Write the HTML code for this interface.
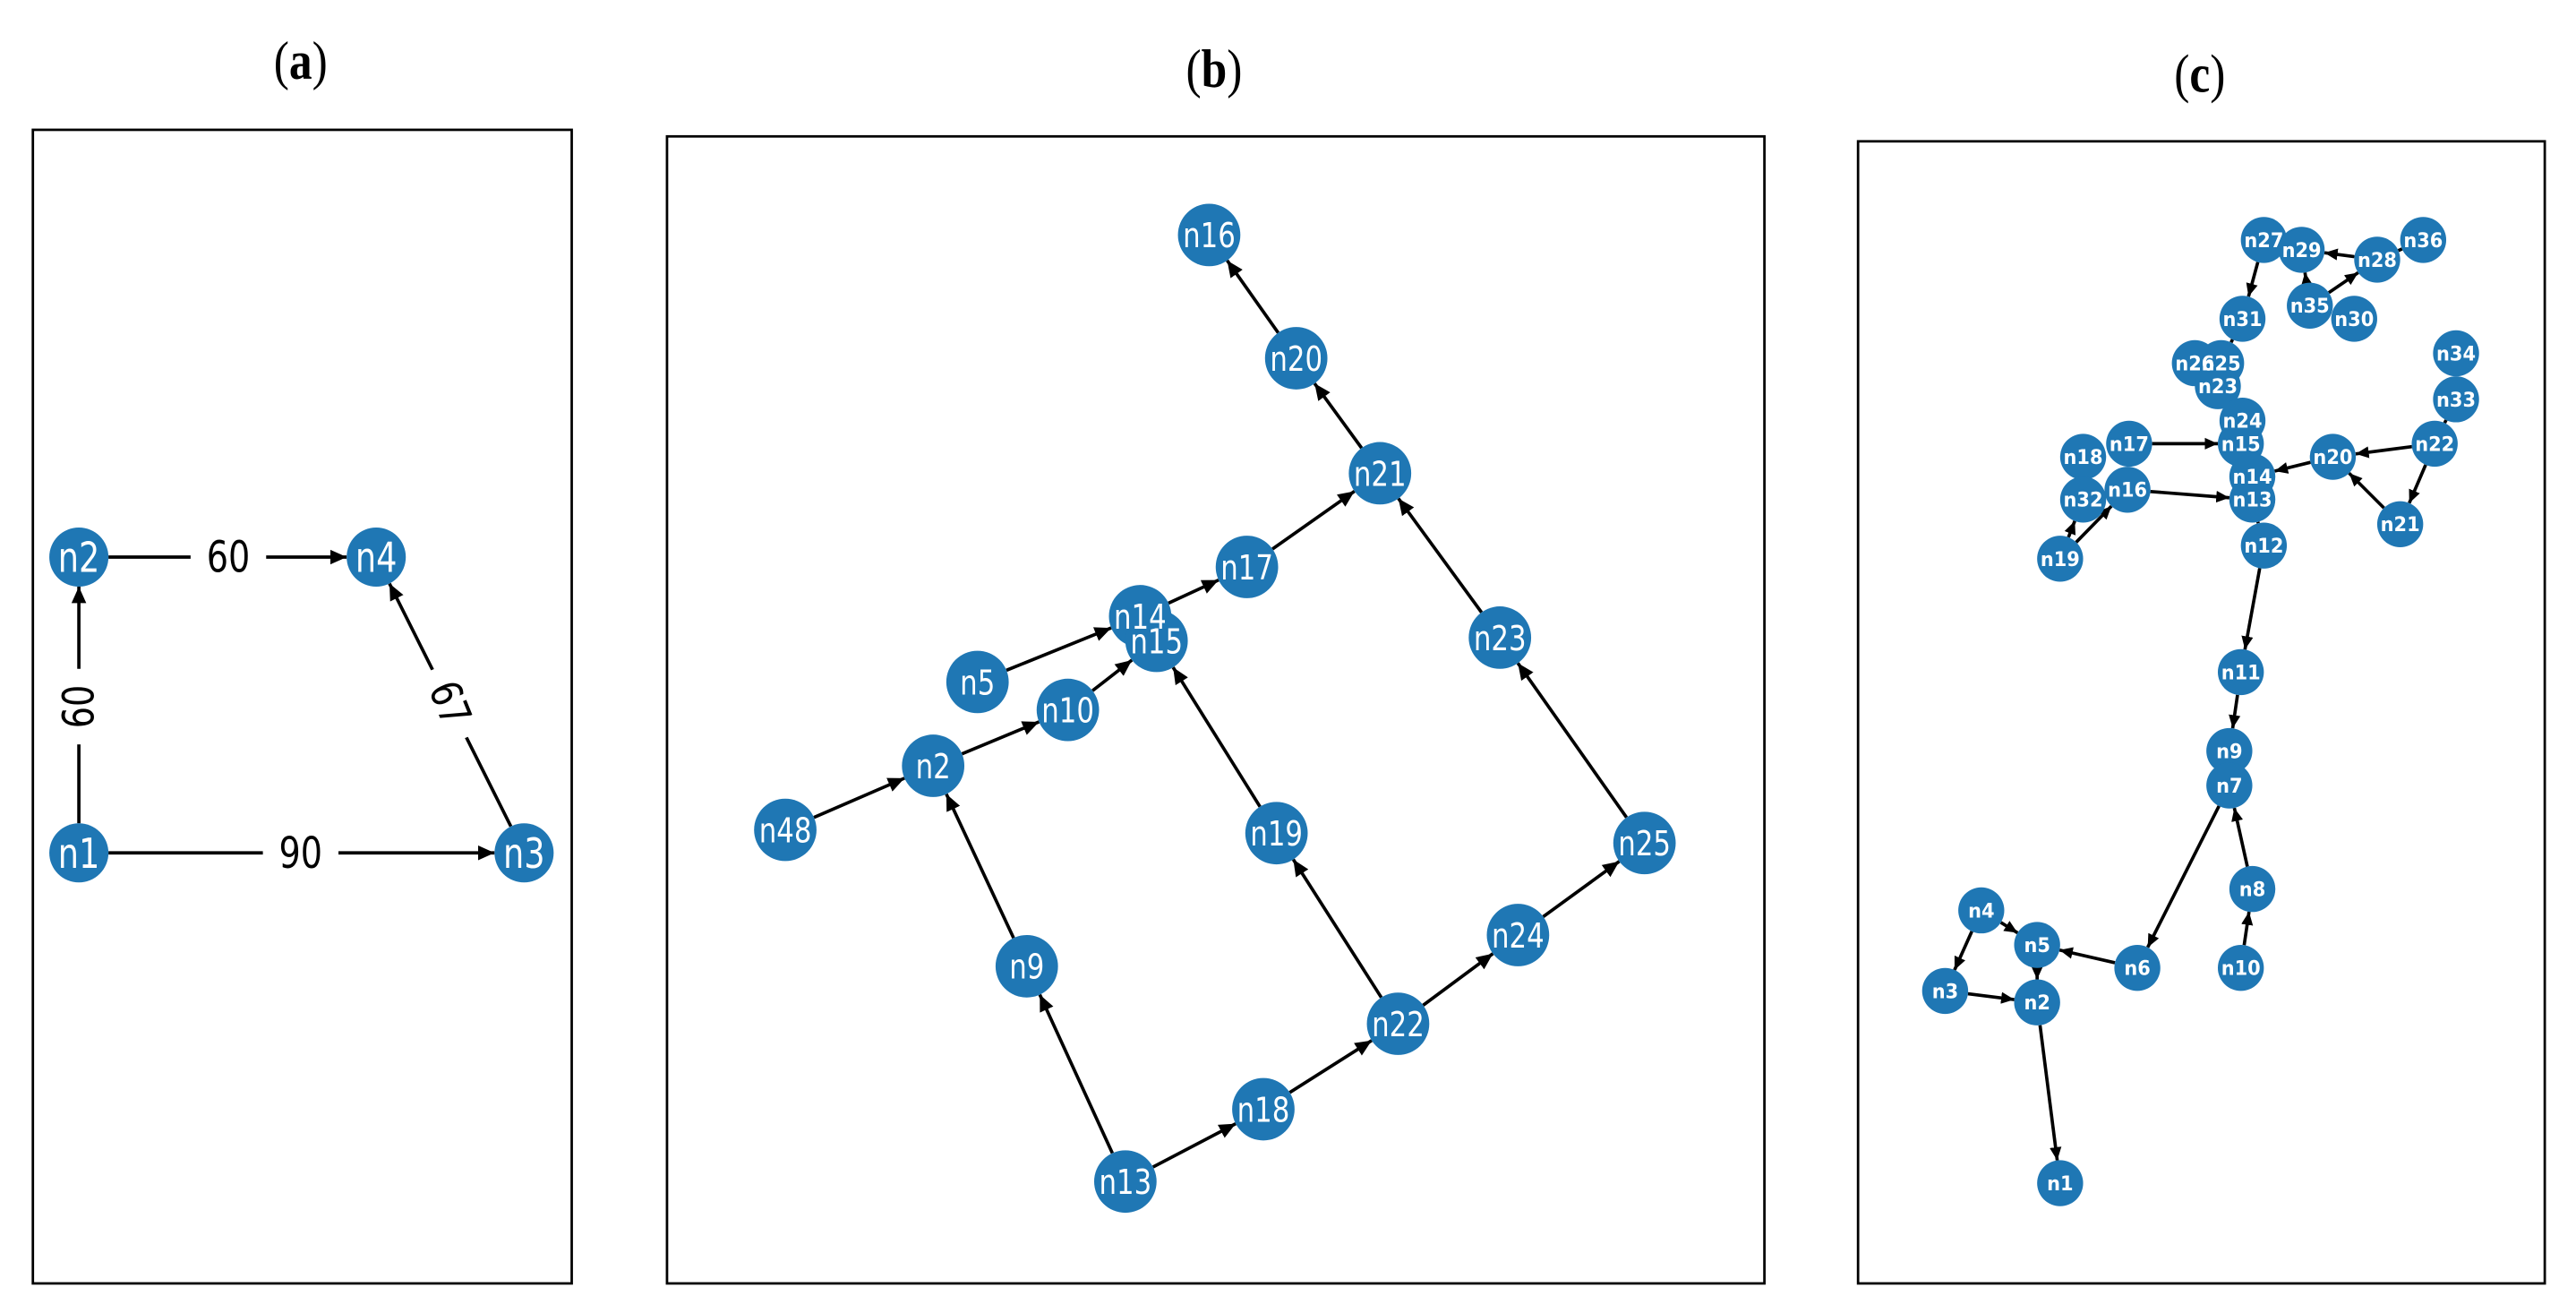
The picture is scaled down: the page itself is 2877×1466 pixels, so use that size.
<!DOCTYPE html>
<html><head><meta charset="utf-8"><style>
html,body{margin:0;padding:0;background:#fff;}
svg{display:block;}
</style></head><body>
<svg id="s" width="2877" height="1466" viewBox="0 0 1568 799" xmlns="http://www.w3.org/2000/svg">
<defs>
<marker id="ah" viewBox="0 0 10 10" refX="10" refY="5" markerWidth="10" markerHeight="10" markerUnits="userSpaceOnUse" orient="auto"><path d="M0,0.5 L10,5 L0,9.5 z" fill="#000"/></marker>
<marker id="ahs" viewBox="0 0 10 10" refX="10" refY="5" markerWidth="8" markerHeight="8" markerUnits="userSpaceOnUse" orient="auto"><path d="M0,0.5 L10,5 L0,9.5 z" fill="#000"/></marker>
</defs>
<g font-family="Liberation Serif, serif" font-size="33" text-anchor="middle">
<text x="183" y="48" transform="translate(183,48) scale(0.85,1) translate(-183,-48)">(<tspan font-weight="bold">a</tspan>)</text>
<text x="739" y="53" transform="translate(739,53) scale(0.85,1) translate(-739,-53)">(<tspan font-weight="bold">b</tspan>)</text>
<text x="1339" y="56" transform="translate(1339,56) scale(0.85,1) translate(-1339,-56)">(<tspan font-weight="bold">c</tspan>)</text>
</g>
<rect x="20" y="79" width="328" height="702" fill="none" stroke="#000" stroke-width="1.5"/>
<rect x="406" y="83" width="668" height="698" fill="none" stroke="#000" stroke-width="1.5"/>
<rect x="1131" y="86" width="418" height="695" fill="none" stroke="#000" stroke-width="1.5"/>
<g id="edges"></g>
<g id="labels"></g>
<g id="nodes"></g>
<g id="ntext"></g>
</svg>
<script>
var NS="http://www.w3.org/2000/svg";
function el(t,a,p,txt){var e=document.createElementNS(NS,t);for(var k in a)e.setAttribute(k,a[k]);if(txt!=null)e.textContent=txt;document.getElementById(p).appendChild(e);return e;}
function graph(N,E,r,fs,sx,bold,mk,lw){
 for(var i=0;i<E.length;i++){var a=N[E[i][0]],b=N[E[i][1]];var dx=b[0]-a[0],dy=b[1]-a[1],d=Math.sqrt(dx*dx+dy*dy);var ux=dx/d,uy=dy/d;
  var at={x1:a[0]+ux*r,y1:a[1]+uy*r,x2:b[0]-ux*r,y2:b[1]-uy*r,stroke:"#000","stroke-width":lw};
  if(!E[i][2])at["marker-end"]="url(#"+mk+")";
  el("line",at,"edges");}
 for(var k in N){var p=N[k];el("circle",{cx:p[0],cy:p[1],r:r,fill:"#1f77b4"},"nodes");
  el("text",{x:0,y:fs*0.36,transform:"translate("+p[0]+","+p[1]+") scale("+sx+",1)","font-family":"DejaVu Sans, sans-serif","font-size":fs,"font-weight":bold?"bold":"normal",fill:"#fff","text-anchor":"middle"},"ntext",k);}
}
// (a)
graph({n1:[48,519],n2:[48,339],n4:[229,339],n3:[319,519]},
 [["n1","n2"],["n2","n4"],["n1","n3"],["n3","n4"]],18,25,0.8,false,"ah",2);
function lab(x,y,t,rot){var g=el("g",{transform:"translate("+x+","+y+") rotate("+rot+")"},"labels");
 var r=document.createElementNS(NS,"rect");r.setAttribute("x",-23);r.setAttribute("y",-14);r.setAttribute("width",46);r.setAttribute("height",28);r.setAttribute("fill","#fff");g.appendChild(r);
 var tx=document.createElementNS(NS,"text");tx.setAttribute("y",9);tx.setAttribute("transform","scale(0.8,1)");tx.setAttribute("font-family","DejaVu Sans, sans-serif");tx.setAttribute("font-size",26);tx.setAttribute("text-anchor","middle");tx.textContent=t;g.appendChild(tx);}
lab(139,339,"60",0);lab(48,430,"60",-90);lab(183,519,"90",0);lab(274,428,"67",68);
// (b)
graph({n16:[736,143],n20:[789,218],n21:[840,288],n17:[759,345],n14:[694,375],n15:[704,390],n5:[595,415],n10:[650,432],n2:[568,466],n48:[478,505],n9:[625,588],n19:[777,507],n23:[913,388],n25:[1001,513],n24:[924,569],n22:[851,623],n18:[769,675],n13:[685,719]},
 [["n20","n16"],["n21","n20"],["n17","n21"],["n14","n17"],["n5","n14"],["n10","n15"],["n2","n10"],["n48","n2"],["n9","n2"],["n13","n9"],["n13","n18"],["n18","n22"],["n22","n19"],["n19","n15"],["n22","n24"],["n24","n25"],["n25","n23"],["n23","n21"]],19,21,0.8,false,"ah",2);
// (c)
graph({n27:[1378,146],n29:[1401,152],n28:[1447,158],n36:[1475,146],n35:[1406,186],n30:[1433,194],n31:[1365,194],n26:[1336,221],n25:[1352,221],n23:[1350,235],n24:[1365,256],n15:[1364,270],n14:[1371,290],n13:[1371,304],n12:[1378,332],n17:[1296,270],n18:[1268,278],n16:[1295,298],n32:[1268,304],n19:[1254,340],n20:[1420,278],n22:[1482,270],n21:[1461,319],n34:[1495,215],n33:[1495,243],n11:[1364,409],n9:[1357,457],n7:[1357,478],n8:[1371,541],n10:[1364,589],n6:[1301,589],n5:[1240,575],n4:[1206,554],n3:[1184,603],n2:[1240,610],n1:[1254,720]},
 [["n27","n31"],["n28","n29"],["n35","n28"],["n35","n29"],["n36","n28",1],["n31","n25",1],["n17","n15"],["n16","n13"],["n20","n14"],["n22","n20"],["n22","n21"],["n21","n20"],["n19","n32"],["n19","n16"],["n33","n22",1],["n34","n33",1],["n12","n11"],["n11","n9"],["n7","n6"],["n8","n7"],["n10","n8"],["n6","n5"],["n4","n3"],["n4","n5"],["n3","n2"],["n5","n2"],["n2","n1"],["n13","n12",1]],14,12,0.95,true,"ahs",2);
</script>
</body></html>
